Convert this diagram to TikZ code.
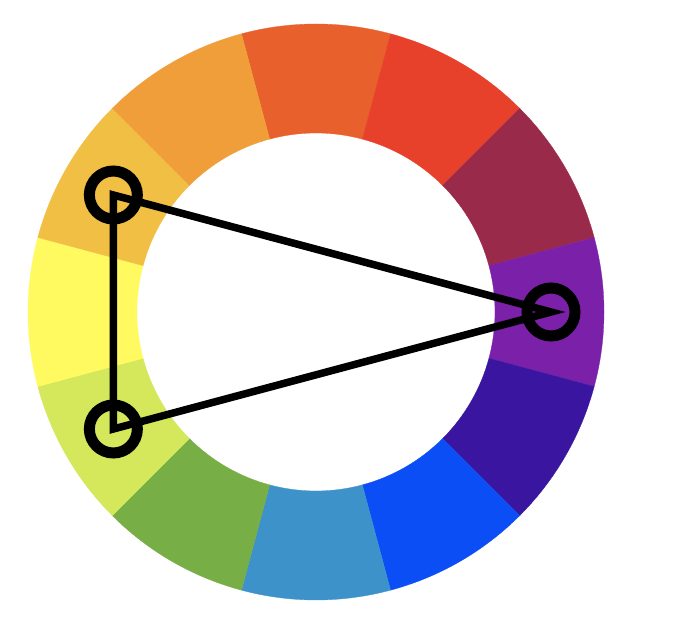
\documentclass[tikz,border=0pt]{standalone}
\begin{document}
\begin{tikzpicture}[x=1pt,y=1pt,
  marker/.style={circle, draw=black, line width=11pt, minimum size=48pt, inner sep=0pt},
  edge/.style={draw=black, line width=7.5pt, line join=miter}]
\useasboundingbox (0,0) rectangle (676,618);
\definecolor{c90}{HTML}{E8602C}
\definecolor{c60}{HTML}{E8412B}
\definecolor{c30}{HTML}{9A2A4A}
\definecolor{c0}{HTML}{7B20A8}
\definecolor{cm30}{HTML}{3A16A0}
\definecolor{cm60}{HTML}{0B4EF5}
\definecolor{cm90}{HTML}{3D92C9}
\definecolor{cm120}{HTML}{78AE46}
\definecolor{cm150}{HTML}{D5E75A}
\definecolor{c180}{HTML}{FFFA60}
\definecolor{c150}{HTML}{F0BF43}
\definecolor{c120}{HTML}{EF9E3A}
\coordinate (O) at (316,306);
\foreach \a/\c in {90/c90,60/c60,30/c30,0/c0,-30/cm30,-60/cm60,-90/cm90,-120/cm120,-150/cm150,180/c180,150/c150,120/c120}{
  \fill[\c, draw=\c, line width=0.3pt] ([shift={(\a-15:288)}]O) arc[start angle=\a-15, end angle=\a+15, radius=288]
    -- ([shift={(\a+15:179)}]O) arc[start angle=\a+15, end angle=\a-15, radius=179] -- cycle;
}
\node[marker] (a) at ([shift={(150:234)}]O) {};
\node[marker] (b) at ([shift={(210:234)}]O) {};
\node[marker] (c) at ([shift={(0:235)}]O) {};
\draw[edge] (a.center) -- (b.center) -- (c.center) -- cycle;
\end{tikzpicture}
\end{document}
